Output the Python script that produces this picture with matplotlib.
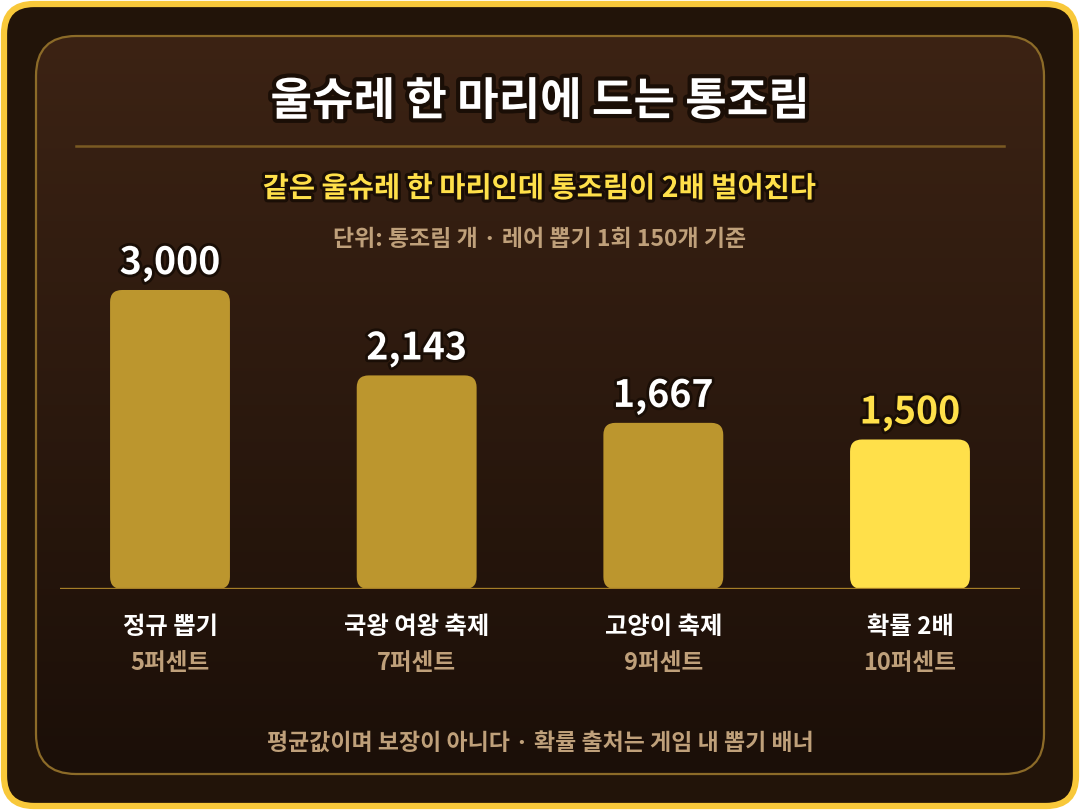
import numpy as np
import matplotlib
matplotlib.use("Agg")
import matplotlib.pyplot as plt
import matplotlib.patheffects as pe
from matplotlib.patches import FancyBboxPatch
from matplotlib.colors import LinearSegmentedColormap

plt.rcParams['font.family'] = ['Noto Sans CJK KR', 'DejaVu Sans']

# data
categories = ['정규 뽑기', '국왕 여왕 축제', '고양이 축제', '확률 2배']
rates = ['5퍼센트', '7퍼센트', '9퍼센트', '10퍼센트']
cans = [3000, 2143, 1667, 1500]
highlight = [False, False, False, True]

title = '울슈레 한 마리에 드는 통조림'
subtitle = '같은 울슈레 한 마리인데 통조림이 2배 벌어진다'
unit_note = '단위: 통조림 개 · 레어 뽑기 1회 150개 기준'
footer = '평균값이며 보장이 아니다 · 확률 출처는 게임 내 뽑기 배너'

W, H = 1080, 810
fig = plt.figure(figsize=(W / 100, H / 100), dpi=100)
fig.patch.set_facecolor('white')

# background in pixel coordinates
bg = fig.add_axes([0, 0, 1, 1])
bg.set_xlim(0, W)
bg.set_ylim(H, 0)
bg.axis('off')

outer = FancyBboxPatch((4, 4), W - 8, H - 8, boxstyle="round,pad=0,rounding_size=30",
                       fc='#221409', ec='#F8C83A', lw=4.5, zorder=1)
bg.add_patch(outer)

panel = FancyBboxPatch((36, 36), 1008, 738, boxstyle="round,pad=0,rounding_size=40",
                       fc='none', ec='#8C6B28', lw=1.6, zorder=3)
bg.add_patch(panel)
grad = np.linspace(0, 1, 256).reshape(-1, 1)
cmap = LinearSegmentedColormap.from_list('panel', ['#3C2314', '#1B0F08'])
im = bg.imshow(grad, extent=[36, 1044, 774, 36], cmap=cmap, aspect='auto', zorder=2)
im.set_clip_path(panel)

bg.plot([76, 1004], [146, 146], color='#7A5A22', lw=1.8, zorder=3)

dark = '#1A0E06'
bg.text(540, 102, title, ha='center', va='center', fontsize=32.5, weight='black', color='white',
        path_effects=[pe.withStroke(linewidth=6, foreground=dark)], zorder=4)
bg.text(540, 189, subtitle, ha='center', va='center', fontsize=20.5, weight='black', color='#FFE04A',
        path_effects=[pe.withStroke(linewidth=4.5, foreground=dark)], zorder=4)
bg.text(540, 239, unit_note, ha='center', va='center', fontsize=16.5, weight='bold', color='#BFA07A', zorder=4)
bg.text(540, 743, footer, ha='center', va='center', fontsize=16.5, weight='bold', color='#BFA07A', zorder=4)

# chart axes
base_px, top_px, left_px, right_px = 589, 250, 60, 1020
ax = fig.add_axes([left_px / W, 1 - base_px / H, (right_px - left_px) / W, (base_px - top_px) / H])
ax.patch.set_alpha(0)
for s in ax.spines.values():
    s.set_visible(False)
ax.set_xticks([])
ax.set_yticks([])

x = np.arange(len(categories))
ax.set_xlim(-0.446, 3.446)
ax.set_ylim(0, (base_px - top_px) / 0.09967)

px_x = (right_px - left_px) / (ax.get_xlim()[1] - ax.get_xlim()[0])
px_y = (base_px - top_px) / (ax.get_ylim()[1] - ax.get_ylim()[0])

bars = ax.bar(x, cans, width=0.486, color='none')
for b, hl in zip(bars, highlight):
    b.set_visible(False)
    fb = FancyBboxPatch((b.get_x(), b.get_y()), b.get_width(), b.get_height(),
                        boxstyle=f"round,pad=0,rounding_size={12 / px_x}",
                        mutation_aspect=px_x / px_y,
                        fc='#FFE04A' if hl else '#BC962E', ec='none', zorder=2)
    ax.add_patch(fb)

ax.axhline(0, color='#A57E28', lw=2.4, zorder=3)

for i, (v, hl) in enumerate(zip(cans, highlight)):
    ax.annotate(f'{v:,}', (i, v), xytext=(0, 19.5), textcoords='offset points',
                ha='center', va='center', fontsize=27, weight='black',
                color='#FFE04A' if hl else 'white',
                path_effects=[pe.withStroke(linewidth=4, foreground=dark)], zorder=4)
    ax.annotate(categories[i], (i, 0), xytext=(0, -27.5), textcoords='offset points',
                ha='center', va='center', fontsize=17.5, weight='black', color='white',
                annotation_clip=False)
    ax.annotate(rates[i], (i, 0), xytext=(0, -53), textcoords='offset points',
                ha='center', va='center', fontsize=17, weight='black', color='#BFA07A',
                annotation_clip=False)

fig.savefig('out.png', dpi=100, facecolor=fig.get_facecolor())
